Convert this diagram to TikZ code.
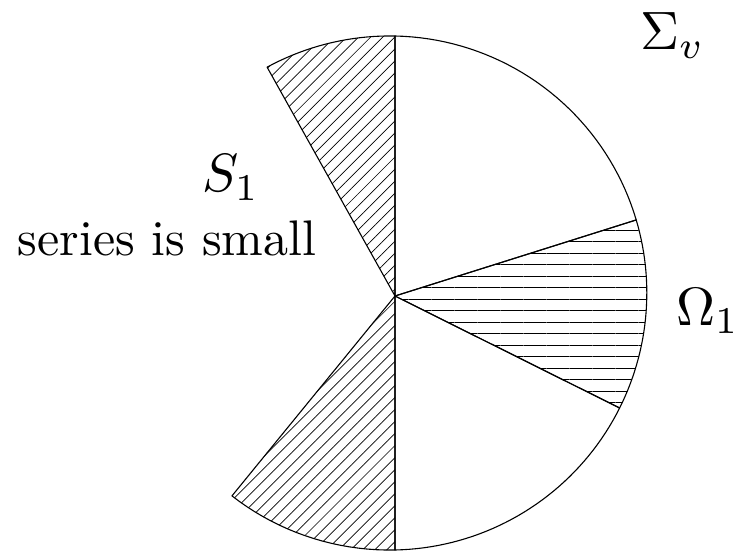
\documentclass[tikz,border=0pt]{standalone}
\usetikzlibrary{patterns.meta}

\begin{document}
\begin{tikzpicture}[x=1pt, y=1pt, line join=round,
    declare function={rim(\t)=257+6*cos(\t-150);},
    edge/.style={line width=1.1pt},
    diaghatch/.style={pattern={Lines[angle=45, distance=8.5pt, line width=0.7pt]}},
    horzhatch/.style={pattern={Lines[angle=0, distance=11.5pt, line width=0.7pt]}},
    mlbl/.style={inner sep=0pt, anchor=base west, scale=5.4},
    tlbl/.style={inner sep=0pt, anchor=base west, scale=5.0}]
    % Rahmen
    \useasboundingbox (-395,-256) rectangle (341,296);
    \coordinate (O) at (0,0);

    % schraffierter Sektor oben links
    \draw[edge, diaghatch] (O) -- plot[domain=90:119.2, samples=20] (\x:{rim(\x)}) -- cycle;
    % weisser Sektor oben rechts
    \draw[edge] (O) -- plot[domain=17.5:90, samples=40] (\x:{rim(\x)}) -- cycle;
    % Sektor Omega_1 (waagerecht schraffiert)
    \draw[edge, horzhatch] (O) -- plot[domain=-26.5:17.5, samples=30] (\x:{rim(\x)}) -- cycle;
    % weisser Sektor unten rechts
    \draw[edge] (O) -- plot[domain=-90:-26.5, samples=40] (\x:{rim(\x)}) -- cycle;
    % schraffierter Sektor unten links
    \draw[edge, diaghatch] (O) -- plot[domain=-129.2:-90, samples=20] (\x:{rim(\x)}) -- cycle;

    % Beschriftungen
    \node[mlbl] (sig) at (244,246) {$\Sigma_v$};
    \node[mlbl] (om) at (280,-29) {$\Omega_1$};
    \node[mlbl] (s1) at (-194,104) {$S_1$};
    \node[tlbl] (txt) at (-378,41) {series is small};
\end{tikzpicture}
\end{document}
